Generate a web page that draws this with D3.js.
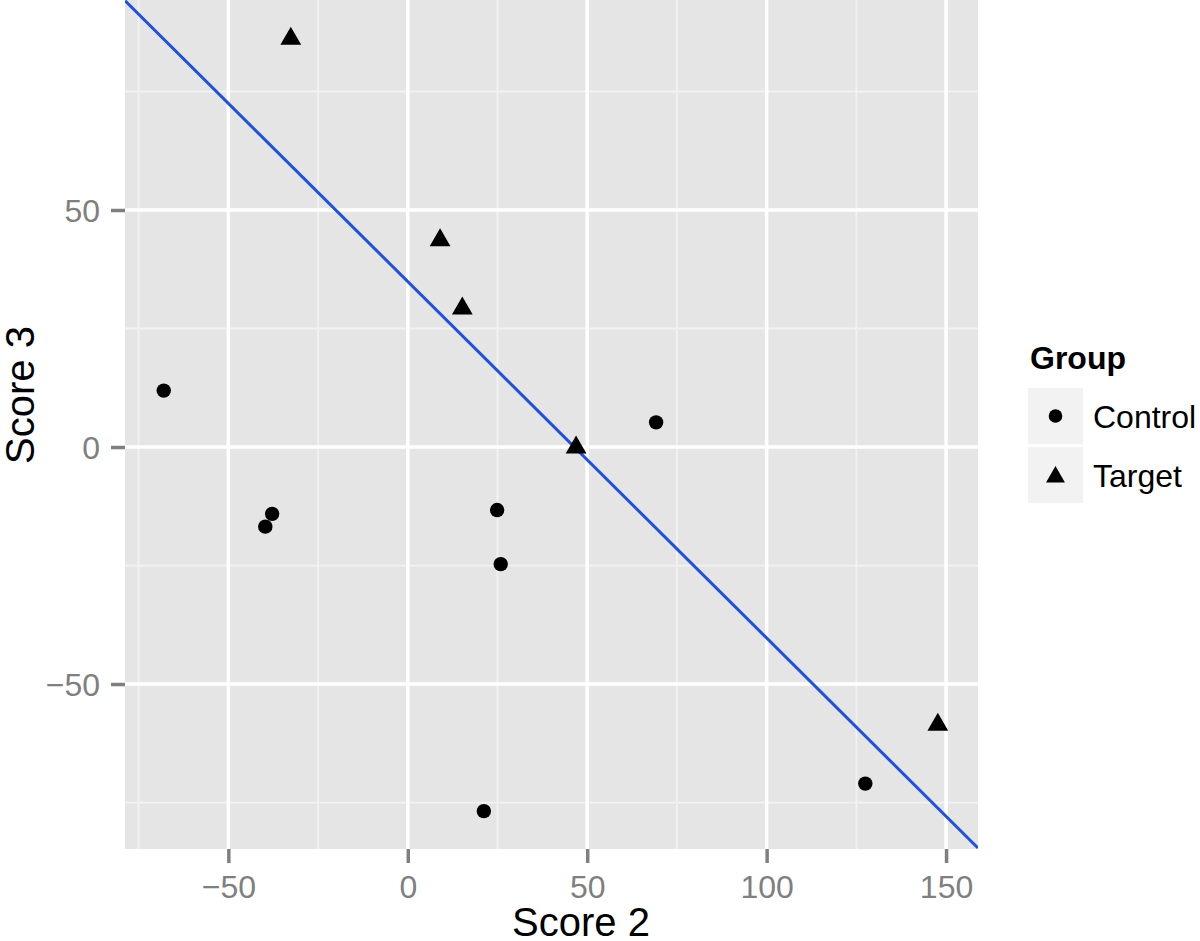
<!DOCTYPE html>
<html lang="en">
<head>
    <meta charset="UTF-8">
    <title>Score 2 vs Score 3 by Group</title>
    <script src="https://d3js.org/d3.v7.min.js"></script>
    <style>
        body { margin: 0; background: #fff; }
        svg { font-family: "Liberation Sans", Arial, Helvetica, sans-serif; }
        .tick-label { fill: #7f7f7f; font-size: 32px; }
        .axis-title { fill: #000; font-size: 40px; }
        .legend-title { font-size: 32px; font-weight: bold; }
        .legend-label { font-size: 32px; }
    </style>
</head>
<body>
<div id="chart-container"></div>
<script>
// Values
const groups = ['Control', 'Target'];
const controlScore2 = [-68.0, -39.7, -37.8, 24.9, 25.9, 69.2, 21.2, 127.5];
const controlScore3 = [11.9, -16.8, -14.1, -13.3, -24.7, 5.2, -76.8, -71.0];
const targetScore2 = [-32.6, 9.0, 15.2, 46.9, 147.7];
const targetScore3 = [86.1, 43.6, 29.2, -0.1, -58.6];
const xTicks = [-50, 0, 50, 100, 150];
const yTicks = [-50, 0, 50];
const xMinor = [-75, -25, 25, 75, 125];
const yMinor = [-75, -25, 25, 75];
const xDomain = [-78.8, 158.9];
const yDomain = [-84.8, 94.3];
// fitted line: score3 = intercept + slope * score2
const fitIntercept = 34.9;
const fitSlope = -0.752;

const width = 1200, height = 941;
const panel = { left: 125, right: 978, top: 0, bottom: 849 };

const svg = d3.select('#chart-container')
    .append('svg')
    .attr('width', width)
    .attr('height', height);

const xScale = d3.scaleLinear().domain(xDomain).range([panel.left, panel.right]);
const yScale = d3.scaleLinear().domain(yDomain).range([panel.bottom, panel.top]);

// Panel background
svg.append('rect')
    .attr('x', panel.left)
    .attr('y', panel.top)
    .attr('width', panel.right - panel.left)
    .attr('height', panel.bottom - panel.top)
    .attr('fill', '#e5e5e5');

svg.append('clipPath').attr('id', 'panel-clip')
    .append('rect')
    .attr('x', panel.left)
    .attr('y', panel.top)
    .attr('width', panel.right - panel.left)
    .attr('height', panel.bottom - panel.top);

// Grid lines, minor then major
function drawGrid(values, vertical, colour, lineWidth) {
    svg.append('g').selectAll('line')
        .data(values)
        .enter()
        .append('line')
        .attr('x1', d => vertical ? xScale(d) : panel.left)
        .attr('x2', d => vertical ? xScale(d) : panel.right)
        .attr('y1', d => vertical ? panel.top : yScale(d))
        .attr('y2', d => vertical ? panel.bottom : yScale(d))
        .attr('stroke', colour)
        .attr('stroke-width', lineWidth);
}
drawGrid(xMinor, true, '#f2f2f2', 1.8);
drawGrid(yMinor, false, '#f2f2f2', 1.8);
drawGrid(xTicks, true, '#ffffff', 3.5);
drawGrid(yTicks, false, '#ffffff', 3.5);

// Axes
const fmt = d3.format('d');
const xAxis = svg.append('g')
    .attr('transform', `translate(0,${panel.bottom})`)
    .call(d3.axisBottom(xScale).tickValues(xTicks).tickSize(14).tickPadding(10).tickFormat(d => fmt(d)));
const yAxis = svg.append('g')
    .attr('transform', `translate(${panel.left},0)`)
    .call(d3.axisLeft(yScale).tickValues(yTicks).tickSize(14).tickPadding(10).tickFormat(d => fmt(d)));

[xAxis, yAxis].forEach(ax => {
    ax.select('.domain').remove();
    ax.selectAll('.tick line').attr('stroke', '#7f7f7f').attr('stroke-width', 3.5);
    ax.selectAll('.tick text').attr('class', 'tick-label').attr('fill', null);
    ax.attr('font-family', null).attr('font-size', null);
});
xAxis.selectAll('.tick text').attr('dy', null).attr('y', 49);
yAxis.selectAll('.tick text').attr('dy', '0.35em').attr('x', -25);

// Axis titles
svg.append('text')
    .attr('class', 'axis-title')
    .attr('x', 581)
    .attr('y', 936)
    .attr('text-anchor', 'middle')
    .text('Score 2');

svg.append('text')
    .attr('class', 'axis-title')
    .attr('transform', 'translate(34,395) rotate(-90)')
    .attr('text-anchor', 'middle')
    .text('Score 3');

// Marks, clipped to the panel
const plot = svg.append('g').attr('clip-path', 'url(#panel-clip)');

plot.append('line')
    .attr('x1', xScale(xDomain[0]))
    .attr('y1', yScale(fitIntercept + fitSlope * xDomain[0]))
    .attr('x2', xScale(xDomain[1]))
    .attr('y2', yScale(fitIntercept + fitSlope * xDomain[1]))
    .attr('stroke', '#1f52d8')
    .attr('stroke-width', 3);

const controlData = controlScore2.map((x, i) => ({ x, y: controlScore3[i] }));
const targetData = targetScore2.map((x, i) => ({ x, y: targetScore3[i] }));
const triangle = d3.symbol().type(d3.symbolTriangle).size(187);

plot.selectAll('.control')
    .data(controlData)
    .enter()
    .append('circle')
    .attr('class', 'control')
    .attr('cx', d => xScale(d.x))
    .attr('cy', d => yScale(d.y))
    .attr('r', 7.2)
    .attr('fill', '#000');

plot.selectAll('.target')
    .data(targetData)
    .enter()
    .append('path')
    .attr('class', 'target')
    .attr('d', triangle)
    .attr('transform', d => `translate(${xScale(d.x)},${yScale(d.y)})`)
    .attr('fill', '#000');

// Legend
const legend = svg.append('g').attr('transform', 'translate(1028,388)');
legend.append('text')
    .attr('class', 'legend-title')
    .attr('x', 2)
    .attr('y', -19)
    .text('Group');

const keys = legend.selectAll('.key')
    .data(groups)
    .enter()
    .append('g')
    .attr('class', 'key')
    .attr('transform', (d, i) => `translate(0,${i * 59})`);

keys.append('rect')
    .attr('width', 55)
    .attr('height', 56)
    .attr('fill', '#f2f2f2');

keys.each(function (d) {
    const g = d3.select(this);
    if (d === 'Control') {
        g.append('circle').attr('cx', 27.5).attr('cy', 28).attr('r', 6.8).attr('fill', '#000');
    } else {
        g.append('path').attr('d', d3.symbol().type(d3.symbolTriangle).size(155))
            .attr('transform', 'translate(27.5,30)').attr('fill', '#000');
    }
});

keys.append('text')
    .attr('class', 'legend-label')
    .attr('x', 65)
    .attr('y', 40)
    .text(d => d);
</script>
</body>
</html>
